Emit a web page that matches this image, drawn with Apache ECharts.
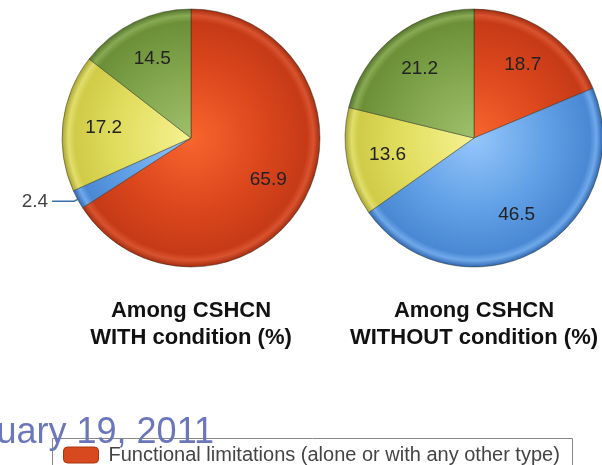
<!DOCTYPE html>
<html><head><meta charset="utf-8">
<script src="https://cdn.jsdelivr.net/npm/echarts@6/dist/echarts.min.js"></script>
<style>html,body{margin:0;padding:0;background:#fff;overflow:hidden}#c{width:602px;height:465px}</style>
</head><body><div id="c"></div>
<script>
// ---- data ----
const categories = [
  'Functional limitations (alone or with any other type)',
  'Prescription medications only',
  'Elevated service use only',
  'Prescription medications and elevated service use'
];
const withCondition = [65.9, 2.4, 17.2, 14.5];
const withoutCondition = [18.7, 46.5, 13.6, 21.2];
const pieTitles = ['Among CSHCN\nWITH condition (%)', 'Among CSHCN\nWITHOUT condition (%)'];
const legendItems = [categories[0]];
const dateText = 'February 19, 2011';

// ---- styles ----
const FONT = "'Liberation Sans', Arial, sans-serif";
const shades = [
  ['#f8652e', '#dc471d', '#c63a17', '#d9532f', '#a22c0f'],
  ['#95c6fb', '#62a1e6', '#4a88d4', '#6fa9ea', '#2f66b0'],
  ['#f6f292', '#e2de60', '#d0cc48', '#e2de6c', '#a8a432'],
  ['#a0c06c', '#80a44b', '#6c9038', '#88aa54', '#53732a']
];
const pies = [
  {cx: 191, cy: 138, r: 129, values: withCondition},
  {cx: 474, cy: 138, r: 129, values: withoutCondition}
];

function grad(i, p) {
  const s = shades[i];
  return {
    type: 'radial', x: p.cx, y: p.cy, r: p.r, global: true,
    colorStops: [
      {offset: 0, color: s[0]}, {offset: 0.55, color: s[1]},
      {offset: 0.9, color: s[2]}, {offset: 0.95, color: s[3]},
      {offset: 1, color: s[4]}
    ]
  };
}

const series = [];
pies.forEach(p => {
  series.push({
    type: 'pie', center: [p.cx, p.cy], radius: p.r, startAngle: 90, clockwise: true,
    avoidLabelOverlap: false, emphasis: {disabled: true}, animation: false,
    itemStyle: {borderColor: 'rgba(40,40,20,0.55)', borderWidth: 0.8},
    data: p.values.map((v, i) => ({
      name: categories[i], value: v,
      itemStyle: {color: grad(i, p)},
      label: v < 5
        ? {show: true, position: 'outside', formatter: '{c}', color: '#444', fontSize: 19, fontFamily: FONT, distanceToLabelLine: 4}
        : {show: false},
      labelLine: v < 5
        ? {show: true, length: 4, length2: 22, smooth: false, lineStyle: {color: '#3a6ea8', width: 1.5}}
        : {show: false}
    }))
  });
  series.push({
    type: 'pie', center: [p.cx, p.cy], radius: [41, p.r], startAngle: 90, clockwise: true,
    silent: true, animation: false, avoidLabelOverlap: false,
    itemStyle: {color: 'rgba(0,0,0,0)', borderWidth: 0},
    label: {show: true, position: 'inside', formatter: '{c}', color: '#222', fontSize: 19, fontFamily: FONT},
    labelLine: {show: false},
    data: p.values.map((v, i) => ({
      name: categories[i], value: v,
      label: {show: v >= 5}
    }))
  });
});

const graphics = pies.map((p, k) => ({
  type: 'text', x: p.cx, y: 297, z: 10,
  style: {
    text: pieTitles[k], fill: '#111', font: 'bold 22px ' + FONT,
    textAlign: 'center', textVerticalAlign: 'top', lineHeight: 27
  }
}));
graphics.push({
  type: 'rect', z: 1,
  shape: {x: 52.5, y: 438.5, width: 520, height: 40},
  style: {fill: 'none', stroke: '#888', lineWidth: 1}
});
graphics.push({
  type: 'text', x: 214, y: 433, z: 100,
  style: {
    text: dateText, fill: '#6c76bb', font: '36px ' + FONT,
    textAlign: 'right', textVerticalAlign: 'middle',
    shadowColor: 'rgba(50,50,50,0.75)', shadowOffsetX: 2, shadowOffsetY: 2, shadowBlur: 1
  }
});

const chart = echarts.init(document.getElementById('c'), null, {renderer: 'canvas'});
chart.setOption({
  backgroundColor: '#fff',
  animation: false,
  legend: {
    left: 63, top: 445, padding: 0, orient: 'horizontal',
    icon: 'roundRect', itemWidth: 35, itemHeight: 16, selectedMode: false,
    textStyle: {fontSize: 20, color: '#444', fontFamily: FONT, padding: [0, 0, 0, 5]},
    data: legendItems.map(n => ({name: n, itemStyle: {color: '#d8491f', borderColor: '#a83414', borderWidth: 1}}))
  },
  series: series,
  graphic: graphics
});
</script></body></html>
